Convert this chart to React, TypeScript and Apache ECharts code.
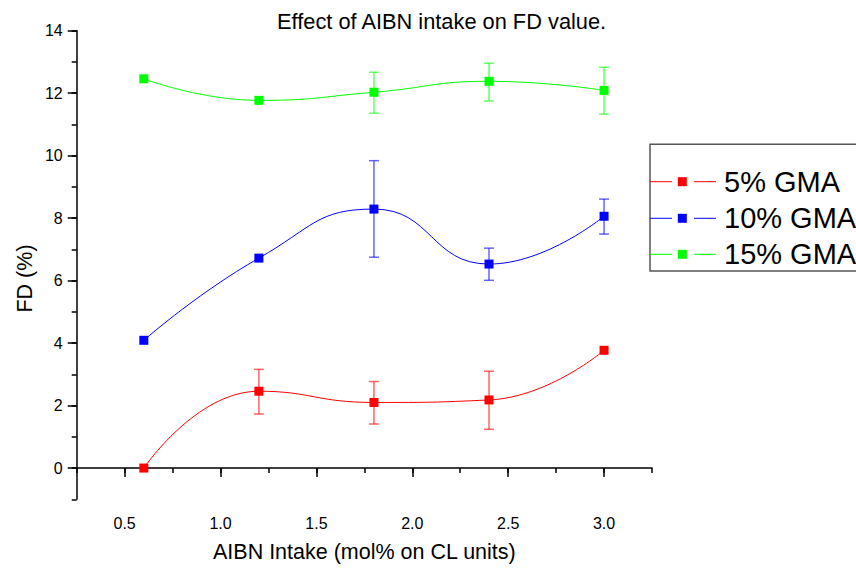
import React, { useEffect, useRef } from "react";
import * as echarts from "echarts";

const xValues = [0.6, 1.2, 1.8, 2.4, 3.0];
const seriesNames = ["5% GMA", "10% GMA", "15% GMA"];
const seriesColors = ["#ff0000", "#0000ff", "#00ff00"];
const gma5 = [0.0, 2.46, 2.1, 2.18, 3.77];
const gma10 = [4.09, 6.72, 8.29, 6.53, 8.06];
const gma15 = [12.46, 11.77, 12.03, 12.38, 12.09];
// error bars: [x, low, high]
const gma5Err = [
  [1.2, 1.73, 3.16],
  [1.8, 1.41, 2.77],
  [2.4, 1.24, 3.1],
];
const gma10Err = [
  [1.8, 6.75, 9.84],
  [2.4, 6.01, 7.04],
  [3.0, 7.49, 8.61],
];
const gma15Err = [
  [1.8, 11.36, 12.67],
  [2.4, 11.75, 12.96],
  [3.0, 11.33, 12.83],
];
const xMajorTicks = [0.5, 1.0, 1.5, 2.0, 2.5, 3.0];
const yMajorTicks = [0, 2, 4, 6, 8, 10, 12, 14];

const titleText = "Effect of AIBN intake on FD value.";
const xName = "AIBN Intake (mol% on CL units)";
const yName = "FD (%)";

const FONT = "'Liberation Sans', Arial, Helvetica, sans-serif";

export default function App() {
  const ref = useRef<HTMLDivElement>(null);
  useEffect(() => {
    if (!ref.current) return;
    const chart = echarts.init(ref.current, null, { renderer: "svg" });
    const values = [gma5, gma10, gma15];
    const errs = [gma5Err, gma10Err, gma15Err];

    const lineSeries = values.map((vals, i) => ({
      type: "line",
      name: seriesNames[i],
      data: xValues.map((x, j) => [x, vals[j]]),
      smooth: 0.5,
      symbol: "rect",
      symbolSize: 9,
      z: 3,
      lineStyle: { color: seriesColors[i], width: 1 },
      itemStyle: { color: seriesColors[i] },
      emphasis: { disabled: true },
    }));

    const errSeries = errs.map((e, i) => ({
      type: "custom",
      name: seriesNames[i] + " err",
      data: e,
      z: 2,
      encode: { x: 0, y: [1, 2] },
      renderItem: (params: any, api: any) => {
        const x = api.value(0);
        const lo = api.coord([x, api.value(1)]);
        const hi = api.coord([x, api.value(2)]);
        const hw = 5;
        const style = { stroke: seriesColors[i], lineWidth: 1.5, opacity: 0.6 };
        return {
          type: "group",
          children: [
            { type: "line", shape: { x1: lo[0], y1: lo[1], x2: hi[0], y2: hi[1] }, style },
            { type: "line", shape: { x1: hi[0] - hw, y1: hi[1], x2: hi[0] + hw, y2: hi[1] }, style },
            { type: "line", shape: { x1: lo[0] - hw, y1: lo[1], x2: lo[0] + hw, y2: lo[1] }, style },
          ],
        };
      },
    }));

    const legendLeft = 650;
    const legendTop = 144.3;
    const rowYs = [181.7, 218.3, 254.3];
    const legendGraphics: any[] = [
      {
        type: "rect",
        shape: { x: legendLeft, y: legendTop, width: 260, height: 126.7 },
        style: { fill: "none", stroke: "#555555", lineWidth: 1.5 },
      },
    ];
    seriesNames.forEach((name, i) => {
      const y = rowYs[i];
      legendGraphics.push(
        { type: "line", shape: { x1: 650, y1: y, x2: 672, y2: y }, style: { stroke: seriesColors[i], lineWidth: 1 } },
        { type: "rect", shape: { x: 677.8, y: y - 4.5, width: 9, height: 9 }, style: { fill: seriesColors[i] } },
        { type: "line", shape: { x1: 694, y1: y, x2: 716, y2: y }, style: { stroke: seriesColors[i], lineWidth: 1 } },
        {
          type: "text",
          x: 724,
          y: y,
          style: {
            text: name,
            fontSize: 29,
            fontFamily: FONT,
            fill: "#000",
            textAlign: "left",
            textVerticalAlign: "middle",
          },
        }
      );
    });
    legendGraphics.push({
      type: "text",
      x: 25,
      y: 278.5,
      rotation: Math.PI / 2,
      style: {
        text: yName,
        fontSize: 21.5,
        fontFamily: FONT,
        fill: "#000",
        textAlign: "center",
        textVerticalAlign: "middle",
      },
    });

    const axisLineStyle = { color: "#000", width: 1.5 };

    chart.setOption({
      animation: false,
      backgroundColor: "#fff",
      title: {
        text: titleText,
        left: 277,
        top: 10,
        padding: 0,
        textStyle: { fontSize: 21.8, fontWeight: "normal", color: "#000", fontFamily: FONT },
      },
      grid: { left: 76.7, right: 204, top: 30.7, bottom: 69.7, containLabel: false, outerBoundsMode: "none" },
      xAxis: [
        {
          type: "value",
          min: 0.25,
          max: 3.25,
          interval: 0.25,
          position: "bottom",
          axisLine: { show: true, lineStyle: axisLineStyle },
          axisTick: { show: true, length: 5, lineStyle: { color: "#000", width: 1.5 } },
          axisLabel: {
            fontSize: 16,
            color: "#000",
            fontFamily: FONT,
            margin: 16,
            formatter: (v: number) => (Math.round(v * 100) % 50 === 0 ? v.toFixed(1) : ""),
          },
          splitLine: { show: false },
          name: xName,
          nameLocation: "middle",
          nameGap: 42,
          nameTextStyle: { fontSize: 21.5, color: "#000", fontFamily: FONT },
        },
        {
          type: "value",
          min: 0.25,
          max: 3.25,
          interval: 0.25,
          position: "bottom",
          axisLine: { show: false },
          axisTick: { show: true, length: 9, customValues: xMajorTicks, lineStyle: { color: "#000", width: 1.5 } },
          axisLabel: { show: false },
          splitLine: { show: false },
        },
      ],
      yAxis: [
        {
          type: "value",
          min: -1,
          max: 14,
          interval: 1,
          position: "left",
          axisLine: { show: true, lineStyle: axisLineStyle },
          axisTick: { show: true, length: 5, lineStyle: { color: "#000", width: 1.5 } },
          axisLabel: {
            fontSize: 16,
            color: "#000",
            fontFamily: FONT,
            margin: 14,
            formatter: (v: number) => (Math.round(v) % 2 === 0 ? String(v) : ""),
          },
          splitLine: { show: false },
        },
        {
          type: "value",
          min: -1,
          max: 14,
          interval: 1,
          position: "left",
          axisLine: { show: false },
          axisTick: { show: true, length: 9, customValues: yMajorTicks, lineStyle: { color: "#000", width: 1.5 } },
          axisLabel: { show: false },
          splitLine: { show: false },
        },
      ],
      graphic: legendGraphics,
      series: [...errSeries, ...lineSeries],
    });
    return () => chart.dispose();
  }, []);
  return (
    <div
      ref={ref}
      style={{ position: "fixed", left: 0, top: 0, width: 856, height: 569, background: "#fff" }}
    />
  );
}
